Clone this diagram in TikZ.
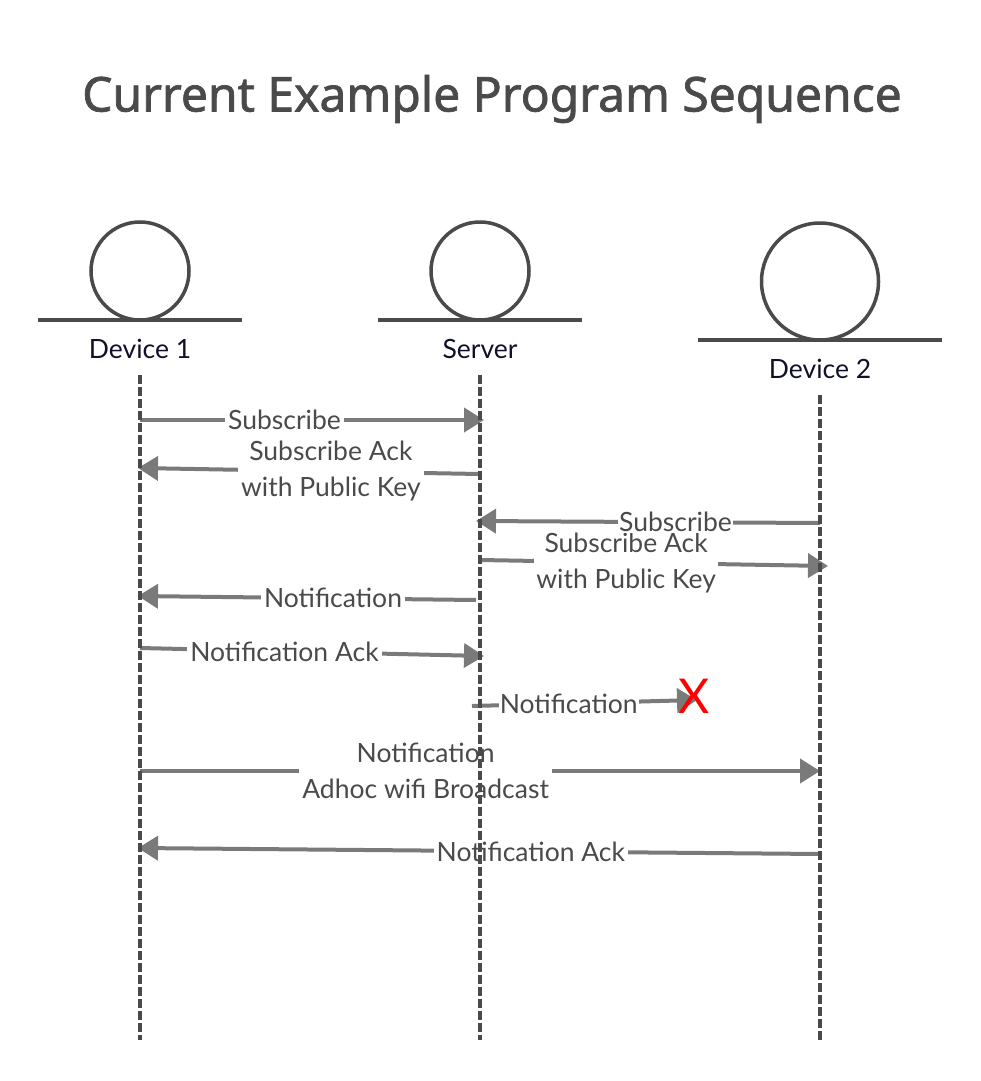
\documentclass[tikz,border=0pt]{standalone}
\usepackage{fontspec}
\setmainfont{Lato}
\newfontfamily\titlefont[FakeBold=1.5]{Noto Sans}
\usetikzlibrary{arrows.meta}
\definecolor{ink}{HTML}{4A4A4A}
\definecolor{arr}{HTML}{7A7A7A}
\definecolor{actor}{HTML}{10102A}
\begin{document}
\begin{tikzpicture}[x=1pt,y=-1pt,
  msg/.style={draw=arr, line width=4pt, -{Triangle[length=20pt,width=24pt]}},
  lbl/.style={fill=white, text=ink, font=\fontsize{26.5}{36}\selectfont, inner sep=3pt, align=center},
  life/.style={draw=ink, line width=3.5pt, dash pattern=on 9pt off 3pt},
  head/.style={circle, draw=ink, line width=3.5pt, inner sep=0pt},
  base/.style={draw=ink, line width=4pt},
  aname/.style={text=actor, font=\fontsize{26.5}{30}\selectfont}
]
\useasboundingbox (0,0) rectangle (980,1081);
\node[text=ink, font=\titlefont\fontsize{48}{58}\selectfont] (title) at (492,99) {Current Example Program Sequence};

% actors
\node[head, minimum size=98pt] (h1) at (140,271) {};
\node[head, minimum size=98pt] (h2) at (480,271) {};
\node[head, minimum size=117pt] (h3) at (820,281.5) {};
\draw[base] (38,320) -- (242,320);
\draw[base] (378,320) -- (582,320);
\draw[base] (698,340) -- (942,340);
\node[aname] (n1) at (140,349) {Device 1};
\node[aname] (n2) at (480,349) {Server};
\node[aname] (n3) at (820,369) {Device 2};

% lifeline ends
\coordinate (d1t) at (140,375); \coordinate (d1b) at (140,1040);
\coordinate (svt) at (480,375); \coordinate (svb) at (480,1040);
\coordinate (d2t) at (820,395); \coordinate (d2b) at (820,1040);

% messages
\coordinate (m1s) at (140,420); \coordinate (m1e) at (484,420);
\draw[msg] (m1s) -- node[lbl, pos=0.42] (l1) {Subscribe} (m1e);

\coordinate (m2s) at (480,474); \coordinate (m2e) at (138,468);
\draw[msg] (m2s) -- node[lbl, pos=0.436] (l2) {Subscribe Ack\\with Public Key} (m2e);

\coordinate (m4s) at (480,560); \coordinate (m4e) at (828,566);
\draw[msg] (m4s) -- node[lbl, pos=0.42, inner sep=2pt] (l4) {Subscribe Ack\\with Public Key} (m4e);

\coordinate (m3s) at (820,523); \coordinate (m3e) at (476,521);
\draw[msg] (m3s) -- node[lbl, pos=0.42, inner sep=1pt] (l3) {Subscribe} (m3e);

\coordinate (m5s) at (476,600); \coordinate (m5e) at (138,596);
\draw[msg] (m5s) -- node[lbl, pos=0.423] (l5) {Notification} (m5e);

\coordinate (m6s) at (140,648); \coordinate (m6e) at (484,656);
\draw[msg] (m6s) -- node[lbl, pos=0.42] (l6) {Notification Ack} (m6e);

\coordinate (m7s) at (472,706); \coordinate (m7e) at (697,700);
\draw[msg] (m7s) -- node[lbl, pos=0.43, inner sep=1pt] (l7) {Notification} (m7e);
\node[text=red, font=\fontsize{48}{48}\selectfont] (lost) at (694,696) {X};

\coordinate (m8s) at (140,771); \coordinate (m8e) at (820,771);
\draw[msg] (m8s) -- node[lbl, pos=0.42] (l8) {Notification\\Adhoc wifi Broadcast} (m8e);

\coordinate (m9s) at (820,854); \coordinate (m9e) at (138,848);
\draw[msg] (m9s) -- node[lbl, pos=0.424] (l9) {Notification Ack} (m9e);

% lifelines on top
\draw[life] (d1t) -- (d1b);
\draw[life] (svt) -- (svb);
\draw[life] (d2t) -- (d2b);
\end{tikzpicture}
\end{document}
